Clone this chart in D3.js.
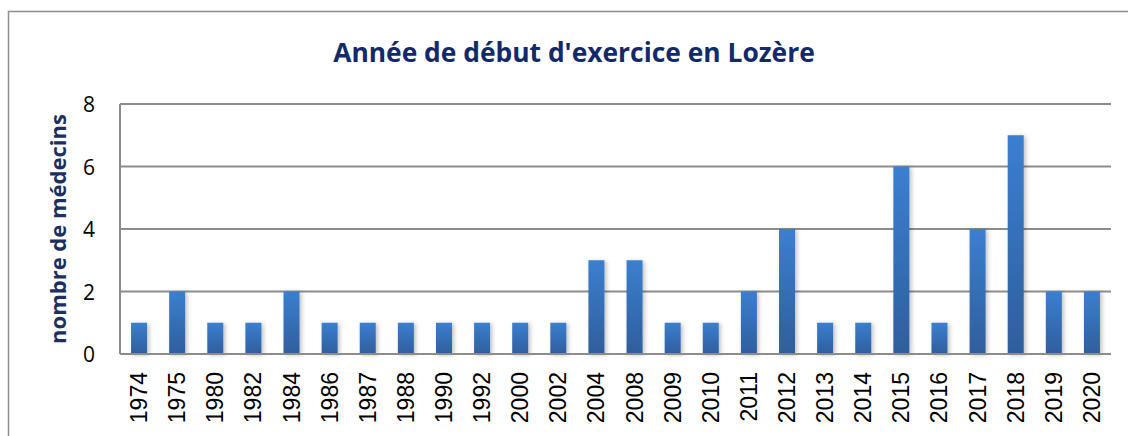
<!DOCTYPE html>
<html>
<head>
<meta charset="utf-8">
<script src="https://cdn.jsdelivr.net/npm/d3@7"></script>
<style>
  body { margin: 0; background: #fff; }
</style>
</head>
<body>
<svg id="chart"></svg>
<script>
var width = 1128,
    height = 436;

// data
var years = ["1974", "1975", "1980", "1982", "1984", "1986", "1987", "1988", "1990", "1992",
             "2000", "2002", "2004", "2008", "2009", "2010", "2011", "2012", "2013", "2014",
             "2015", "2016", "2017", "2018", "2019", "2020"];
var counts = [1, 2, 1, 1, 2, 1, 1, 1, 1, 1,
              1, 1, 3, 3, 1, 1, 2, 4, 1, 1,
              6, 1, 4, 7, 2, 2];
var yTicks = [0, 2, 4, 6, 8];

var title = "Année de début d'exercice en Lozère";
var yTitle = "nombre de médecins";

var svg = d3.select("#chart")
    .attr("width", width)
    .attr("height", height);

var defs = svg.append("defs");
var grad = defs.append("linearGradient")
    .attr("id", "barGrad")
    .attr("x1", 0).attr("y1", 0).attr("x2", 0).attr("y2", 1);
grad.append("stop").attr("offset", "0%").attr("stop-color", "#3b7fd0");
grad.append("stop").attr("offset", "100%").attr("stop-color", "#2f5e9c");

var shadow = defs.append("filter")
    .attr("id", "shadow")
    .attr("x", "-50%").attr("y", "-10%").attr("width", "200%").attr("height", "120%");
shadow.append("feDropShadow")
    .attr("dx", 2).attr("dy", 1)
    .attr("stdDeviation", 2)
    .attr("flood-color", "#000")
    .attr("flood-opacity", 0.25);

// outer frame
svg.append("rect")
    .attr("x", 8.5).attr("y", 11.5)
    .attr("width", width + 10).attr("height", height + 10)
    .attr("fill", "none")
    .attr("stroke", "#8c8c8c")
    .attr("stroke-width", 1.5);

var margin = {left: 120, right: 1111, top: 104, bottom: 354};

var x = d3.scaleBand()
    .domain(years)
    .range([margin.left, margin.right])
    .paddingInner(0.58)
    .paddingOuter(0.29);

var y = d3.scaleLinear()
    .domain([0, 8])
    .range([margin.bottom, margin.top]);

// gridlines
svg.append("g")
    .selectAll("line")
    .data(yTicks)
    .enter()
    .append("line")
        .attr("x1", margin.left)
        .attr("x2", margin.right)
        .attr("y1", function(d) { return y(d); })
        .attr("y2", function(d) { return y(d); })
        .attr("stroke", "#8c8c8c")
        .attr("stroke-width", 2);

// vertical axis line
svg.append("line")
    .attr("x1", margin.left).attr("x2", margin.left)
    .attr("y1", margin.top).attr("y2", margin.bottom)
    .attr("stroke", "#8c8c8c")
    .attr("stroke-width", 2);

// bars
svg.append("g")
    .selectAll("rect")
    .data(counts)
    .enter()
    .append("rect")
        .attr("x", function(d, i) { return x(years[i]); })
        .attr("y", function(d) { return y(d); })
        .attr("width", x.bandwidth())
        .attr("height", function(d) { return y(0) - y(d); })
        .attr("fill", "url(#barGrad)")
        .attr("filter", "url(#shadow)");

// redraw baseline on top
svg.append("line")
    .attr("x1", margin.left).attr("x2", margin.right)
    .attr("y1", y(0)).attr("y2", y(0))
    .attr("stroke", "#8c8c8c")
    .attr("stroke-width", 2);

// y tick labels
svg.append("g")
    .selectAll("text")
    .data(yTicks)
    .enter()
    .append("text")
        .attr("x", 95)
        .attr("y", function(d) { return y(d) + 8; })
        .attr("text-anchor", "end")
        .style("font-family", "'Open Sans', sans-serif")
        .style("font-size", "21px")
        .style("fill", "#000")
        .text(function(d) { return d; });

// x tick labels
svg.append("g")
    .selectAll("text")
    .data(years)
    .enter()
    .append("text")
        .attr("transform", function(d) {
            return "translate(" + (x(d) + x.bandwidth() / 2 + 8) + "," + 372 + ") rotate(-90)";
        })
        .attr("text-anchor", "end")
        .style("font-family", "'Liberation Sans', Arial, sans-serif")
        .style("font-size", "23px")
        .style("fill", "#000")
        .text(function(d) { return d; });

// title
svg.append("text")
    .attr("x", 574)
    .attr("y", 62)
    .attr("text-anchor", "middle")
    .style("font-family", "'Open Sans', sans-serif")
    .style("font-weight", "bold")
    .style("font-size", "26.4px")
    .style("fill", "#13296a")
    .text(title);

// y axis title
svg.append("text")
    .attr("transform", "translate(66," + 229 + ") rotate(-90)")
    .attr("text-anchor", "middle")
    .style("font-family", "'Open Sans', sans-serif")
    .style("font-weight", "bold")
    .style("font-size", "22px")
    .style("fill", "#1c2f5e")
    .text(yTitle);
</script>
</body>
</html>
